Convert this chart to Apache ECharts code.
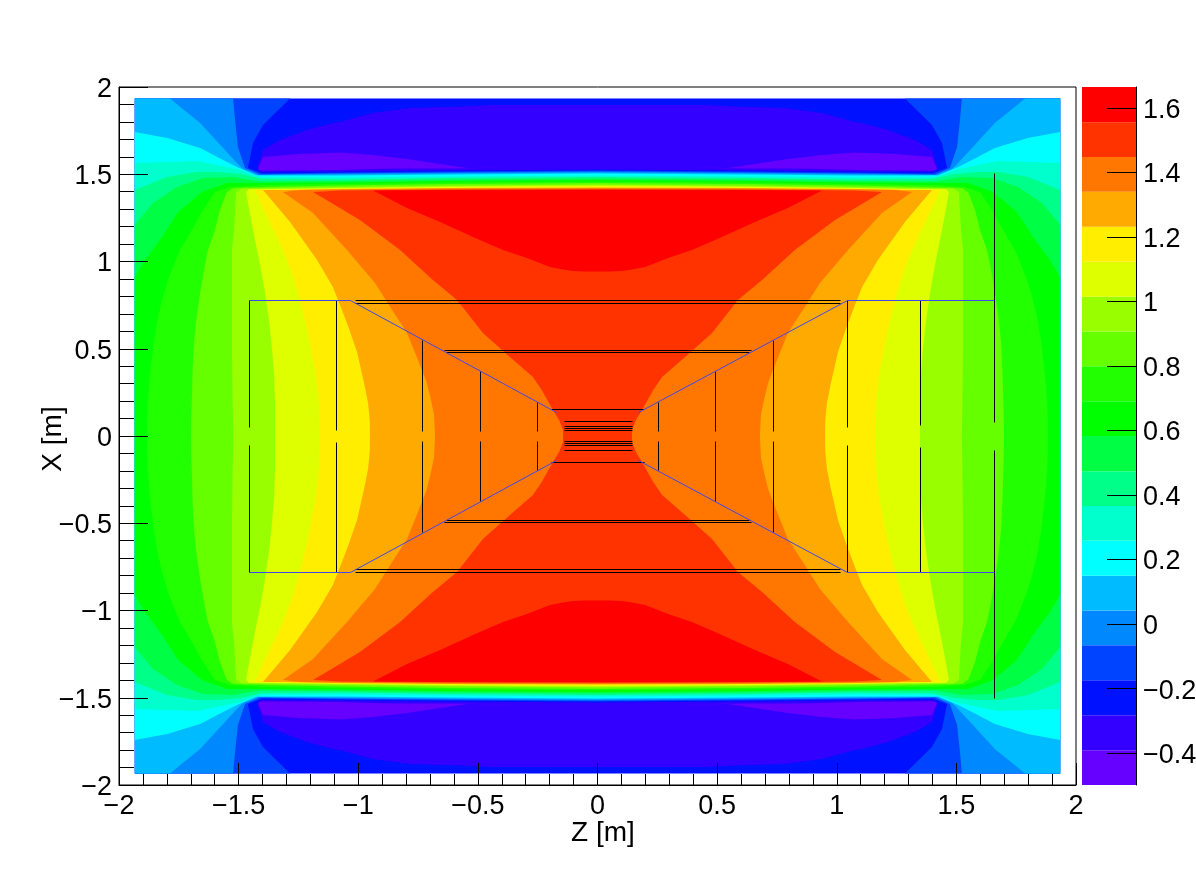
<!DOCTYPE html>
<html>
<head>
<meta charset="utf-8">
<style>
  html, body { margin: 0; background: #fff; }
  #chart { width: 1196px; height: 872px; }
</style>
<script src="https://cdn.jsdelivr.net/npm/echarts@6/dist/echarts.min.js"></script>
</head>
<body>
<div id="chart"></div>
<script>
// colour levels, low to high
const levels = [-0.499, -0.391, -0.283, -0.174, -0.066, 0.042, 0.150, 0.258, 0.366, 0.474, 0.583,
                0.691, 0.799, 0.907, 1.015, 1.123, 1.232, 1.340, 1.448, 1.556, 1.665];
const palette = ["#6600ff", "#3300ff", "#0011ff", "#0044ff", "#0088ff", "#00bbff", "#00ffff", "#00ffcc",
                 "#00ff88", "#00ff44", "#00ff00", "#22ff00", "#66ff00", "#99ff00", "#ddff00", "#ffee00",
                 "#ffaa00", "#ff7700", "#ff3300", "#ff0000"];
const paletteTicks = [-0.4, -0.2, 0, 0.2, 0.4, 0.6, 0.8, 1, 1.2, 1.4, 1.6];

// contours, [z, x] in metres, upper left quadrant
const domainEdge = [[-1.934, 0], [-1.934, 1.934], [0, 1.934]];
const contour3 = [[-1.934,0],[-1.934,1.934],[-1.285,1.934],[-1.398,1.782],[-1.440,1.679],[-1.461,1.536],[-1.402,1.504],[-1.076,1.510],[-0.617,1.516],[0,1.521]];
const contour4 = [[-1.934,0],[-1.934,1.934],[-1.523,1.934],[-1.515,1.811],[-1.503,1.656],[-1.473,1.536],[-1.411,1.499],[-1.076,1.504],[-0.617,1.510],[0,1.516]];
const contour5 = [[-1.934,0],[-1.934,1.934],[-1.787,1.934],[-1.661,1.794],[-1.565,1.650],[-1.507,1.564],[-1.482,1.530],[-1.419,1.496],[-1.076,1.499],[-0.617,1.504],[0,1.510]];
const contour6 = [[-1.934,0],[-1.934,1.742],[-1.799,1.708],[-1.661,1.650],[-1.565,1.582],[-1.507,1.542],[-1.423,1.493],[-1.076,1.493],[-0.617,1.499],[0,1.504]];
const contour7 = [[-1.934,0],[-1.934,1.564],[-1.799,1.570],[-1.674,1.576],[-1.590,1.553],[-1.494,1.524],[-1.411,1.484],[-1.076,1.481],[-0.617,1.487],[0,1.493]];
const contour8 = [[-1.934,0],[-1.934,1.410],[-1.799,1.484],[-1.674,1.513],[-1.590,1.513],[-1.494,1.501],[-1.398,1.473],[-1.076,1.470],[-0.617,1.479],[0,1.484]];
const contour9 = [[-1.934,0],[-1.934,1.209],[-1.858,1.335],[-1.758,1.427],[-1.649,1.479],[-1.523,1.484],[-1.411,1.458],[-1.076,1.461],[-0.617,1.470],[0,1.476]];
const contour10 = [[-1.934,0],[-1.934,0.911],[-1.891,1.009],[-1.820,1.140],[-1.753,1.284],[-1.653,1.398],[-1.549,1.450],[-1.411,1.450],[-1.076,1.453],[-0.617,1.461],[0,1.467]];
const contour11 = [[-1.883,0],[-1.882,0.10],[-1.879,0.206],[-1.872,0.33],[-1.862,0.453],[-1.851,0.57],[-1.837,0.682],[-1.818,0.79],[-1.795,0.894],[-1.771,0.98],[-1.745,1.066],[-1.703,1.163],[-1.649,1.295],[-1.599,1.398],[-1.536,1.427],[-1.398,1.438],[-1.076,1.444],[-0.617,1.453],[0,1.458]];
const contour12 = [[-1.699,0],[-1.698,0.12],[-1.695,0.246],[-1.692,0.39],[-1.687,0.533],[-1.676,0.68],[-1.661,0.819],[-1.646,0.945],[-1.628,1.066],[-1.599,1.181],[-1.578,1.295],[-1.549,1.398],[-1.523,1.421],[-1.381,1.427],[-1.076,1.436],[-0.617,1.444],[0,1.450]];
const contour13 = [[-1.523,0],[-1.528,0.493],[-1.528,0.797],[-1.528,1.066],[-1.519,1.181],[-1.511,1.398],[-1.486,1.418],[-1.369,1.421],[-1.076,1.427],[-0.617,1.436],[0,1.441]];
const contour14 = [[-1.348,0],[-1.348,0.206],[-1.352,0.35],[-1.360,0.493],[-1.373,0.66],[-1.390,0.819],[-1.406,0.945],[-1.423,1.066],[-1.444,1.209],[-1.469,1.398],[-1.457,1.415],[-1.348,1.415],[-1.076,1.421],[-0.617,1.430],[0,1.436]];
const contour15 = [[-1.160,0],[-1.161,0.12],[-1.168,0.246],[-1.181,0.38],[-1.202,0.533],[-1.226,0.68],[-1.256,0.837],[-1.285,0.96],[-1.315,1.066],[-1.369,1.221],[-1.432,1.410],[-1.327,1.413],[-1.076,1.418],[-0.617,1.424],[0,1.430]];
const contour16 = [[-0.951,0],[-0.952,0.09],[-0.959,0.189],[-0.975,0.30],[-1.005,0.481],[-1.040,0.62],[-1.076,0.751],[-1.106,0.854],[-1.172,1.009],[-1.285,1.226],[-1.398,1.410],[-1.306,1.410],[-1.076,1.415],[-0.617,1.421],[0,1.424]];
const contour17 = [[-0.679,0],[-0.683,0.12],[-0.696,0.206],[-0.713,0.304],[-0.742,0.407],[-0.796,0.590],[-0.867,0.74],[-0.930,0.877],[-1.047,1.066],[-1.189,1.278],[-1.315,1.398],[-1.243,1.410],[-1.076,1.413],[-0.617,1.418],[0,1.421]];
const contour18 = [[-0.144,0],[-0.144,0.034],[-0.160,0.09],[-0.186,0.149],[-0.233,0.264],[-0.270,0.338],[-0.366,0.453],[-0.479,0.590],[-0.587,0.779],[-0.688,0.894],[-0.825,1.066],[-0.993,1.238],[-1.189,1.398],[-1.076,1.407],[-0.617,1.413],[0,1.415]];
// caps above the wall and inside it, half of each (the other half is the mirror image)
const lowCap = [[0,1.897],[-0.449,1.897],[-0.604,1.887],[-0.784,1.880],[-0.938,1.851],[-1.076,1.799],[-1.106,1.794],[-1.214,1.754],[-1.327,1.696],[-1.398,1.639],[-1.423,1.536],[-1.402,1.513],[-1.076,1.516],[-0.617,1.521],[0,1.527]];
const lowestPatch = [[-1.419,1.530],[-1.398,1.599],[-1.243,1.616],[-1.076,1.624],[-0.938,1.610],[-0.796,1.587],[-0.658,1.559],[-0.545,1.536],[-0.336,1.539],[-0.617,1.533],[-0.863,1.533],[-1.076,1.524],[-1.411,1.521]];
const highCap = [[0,1.410],[-0.617,1.410],[-0.938,1.407],[-0.796,1.307],[-0.658,1.226],[-0.520,1.140],[-0.395,1.066],[-0.295,1.020],[-0.250,0.995],[-0.199,0.968],[-0.150,0.955],[-0.102,0.946],[-0.050,0.943],[0,0.943]];

// detector outline, [z1, x1, z2, x2]
const blueLines = [
  [-1.457,0.779,-1.034,0.779],[-1.034,0.779,-0.172,0.135],[-1.457,-0.779,-1.034,-0.779],[-1.034,-0.779,-0.172,-0.135],
  [1.657,0.779,1.043,0.779],[1.043,0.779,0.170,0.135],[1.657,-0.779,1.043,-0.779],[1.043,-0.779,0.170,-0.135]
];
const blackLines = [
  [-1.014,0.779,1.014,0.779],[-1.014,0.762,1.014,0.762],[-1.014,-0.762,1.014,-0.762],[-1.014,-0.779,1.014,-0.779],
  [-0.642,0.493,0.642,0.493],[-0.633,0.479,0.633,0.479],[-0.633,-0.479,0.633,-0.479],[-0.642,-0.493,0.642,-0.493],
  [-0.194,0.153,0.194,0.153],[-0.194,-0.151,0.194,-0.151],
  [-0.140,0.084,0.144,0.084],[-0.140,0.056,0.144,0.056],[-0.140,0.044,0.144,0.044],[-0.140,0.034,0.144,0.034],
  [-0.140,-0.030,0.144,-0.030],[-0.140,-0.040,0.144,-0.040],[-0.140,-0.052,0.144,-0.052],[-0.140,-0.082,0.144,-0.082],
  [-1.457,0.779,-1.457,0.052],[-1.457,-0.052,-1.457,-0.779],[-1.093,0.779,-1.093,0.034],[-1.093,-0.034,-1.093,-0.779],
  [-0.734,0.550,-0.734,0.029],[-0.734,-0.029,-0.734,-0.550],[-0.491,0.372,-0.491,0.029],[-0.491,-0.029,-0.491,-0.372],
  [-0.253,0.195,-0.253,0.029],[-0.253,-0.029,-0.253,-0.195],[0.253,0.195,0.253,0.029],[0.253,-0.029,0.253,-0.195],
  [0.491,0.372,0.491,0.029],[0.491,-0.029,0.491,-0.372],[0.734,0.550,0.734,0.029],[0.734,-0.029,0.734,-0.550],
  [1.043,0.779,1.043,0.050],[1.043,-0.050,1.043,-0.779],[1.348,0.779,1.348,0.063],[1.348,-0.061,1.348,-0.779],
  [1.657,1.507,1.657,0.082],[1.657,-0.080,1.657,-1.500]
];

const FONT = "Liberation Sans";
const flip = (pts, sz, sx) => pts.map((p) => [p[0] * sz, p[1] * sx]);
const back = (pts) => pts.slice().reverse();

// quadrant outline -> one closed shape around the centre
const whole = (q) => [q, back(flip(q, -1, 1)), flip(q, -1, -1), back(flip(q, 1, -1))].flat();
// half cap -> upper and lower cap
const caps = (h) => {
  const top = h.concat(back(flip(h, -1, 1)));
  return [top, flip(top, 1, -1)];
};
const fourCopies = (q) => [q, flip(q, -1, 1), flip(q, 1, -1), flip(q, -1, -1)];

// painted low to high, each one on top of the last
const shapes = [];
const addShape = (pts, band) => shapes.push({ pts, band });
addShape(whole(domainEdge), 2);
caps(lowCap).forEach((s) => addShape(s, 1));
fourCopies(lowestPatch).forEach((s) => addShape(s, 0));
[contour3, contour4, contour5, contour6, contour7, contour8, contour9, contour10, contour11,
 contour12, contour13, contour14, contour15, contour16, contour17, contour18].forEach((c, i) => addShape(whole(c), i + 3));
caps(highCap).forEach((s) => addShape(s, 19));

const minusText = (v) => String(v).replace("-", "\u2212");
const crisp = (v) => Math.round(v) + 0.5;

const lineItem = (color) => (params, api) => {
  const a = api.coord([api.value(0), api.value(1)]);
  const b = api.coord([api.value(2), api.value(3)]);
  return {
    type: "line",
    shape: { x1: crisp(a[0]), y1: crisp(a[1]), x2: crisp(b[0]), y2: crisp(b[1]) },
    style: { stroke: color, lineWidth: 1 },
  };
};

const mainAxis = (name, tickLen, minorLen, nameGap, namePadding, labelExtra) => ({
  type: "value",
  min: -2,
  max: 2,
  interval: 0.5,
  name,
  nameLocation: "middle",
  nameGap,
  nameMoveOverlap: false,
  nameTextStyle: { fontFamily: FONT, fontSize: 28, color: "#000", padding: namePadding },
  axisLine: { show: true, onZero: false, lineStyle: { color: "#000", width: 1 } },
  axisTick: { show: true, inside: true, length: tickLen, lineStyle: { color: "#000", width: 1 } },
  minorTick: { show: true, splitNumber: 5, length: minorLen, lineStyle: { color: "#000", width: 1 } },
  splitLine: { show: false },
  axisLabel: Object.assign({ fontFamily: FONT, fontSize: 27, color: "#000", formatter: minusText }, labelExtra),
  z: 5,
});

// labels sit about 2px under their ticks in the reference
const lowLabel = { verticalAlign: "top", lineHeight: 5 };

const option = {
  animation: false,
  backgroundColor: "#fff",
  grid: [
    { left: 119, top: 87, width: 957, height: 698, show: true, borderColor: "#000", borderWidth: 1, backgroundColor: "#fff", outerBoundsMode: "none" },
    { left: 1082, top: 87, width: 54, height: 698, outerBoundsMode: "none" },
  ],
  xAxis: [
    mainAxis("Z [m]", 22, 11, 34, [0, 0, 0, 11], { margin: 8 }),
    { type: "value", gridIndex: 1, min: 0, max: 1, show: false },
  ],
  yAxis: [
    mainAxis("X [m]", 29, 15, 52, [0, 6, 0, 0], Object.assign({
      margin: 7, verticalAlignMinLabel: "top", verticalAlignMaxLabel: "top",
    }, lowLabel)),
    {
      type: "value",
      gridIndex: 1,
      position: "right",
      min: levels[0],
      max: levels[levels.length - 1],
      axisLine: { show: true, onZero: false, lineStyle: { color: "#000", width: 1 } },
      axisTick: { show: true, inside: true, length: 29, customValues: paletteTicks, lineStyle: { color: "#000", width: 1 } },
      splitLine: { show: false },
      axisLabel: Object.assign({ fontFamily: FONT, fontSize: 27, color: "#000", margin: 7, customValues: paletteTicks, formatter: minusText }, lowLabel),
      z: 5,
    },
  ],
  series: [
    {
      // filled contour bands
      type: "custom",
      xAxisIndex: 0,
      yAxisIndex: 0,
      clip: true,
      silent: true,
      data: shapes.map((s, i) => [i]),
      encode: { x: [], y: [] },
      renderItem: (params, api) => {
        const s = shapes[params.dataIndex];
        return {
          type: "polygon",
          shape: { points: s.pts.map((p) => api.coord(p)) },
          style: { fill: palette[s.band] },
        };
      },
      z: 2,
    },
    {
      type: "custom",
      xAxisIndex: 0,
      yAxisIndex: 0,
      silent: true,
      data: blackLines,
      encode: { x: [0, 2], y: [1, 3] },
      renderItem: lineItem("#000"),
      z: 3,
    },
    {
      type: "custom",
      xAxisIndex: 0,
      yAxisIndex: 0,
      silent: true,
      data: blueLines,
      encode: { x: [0, 2], y: [1, 3] },
      renderItem: lineItem("#4048ee"),
      z: 4,
    },
    {
      // palette box
      type: "custom",
      xAxisIndex: 1,
      yAxisIndex: 1,
      silent: true,
      data: palette.map((c, i) => [0, levels[i], 1, levels[i + 1]]),
      encode: { x: [0, 2], y: [1, 3] },
      renderItem: (params, api) => {
        const a = api.coord([api.value(0), api.value(1)]);
        const b = api.coord([api.value(2), api.value(3)]);
        return {
          type: "rect",
          shape: { x: a[0], y: b[1], width: b[0] - a[0], height: a[1] - b[1] },
          style: { fill: palette[params.dataIndex] },
        };
      },
      z: 2,
    },
  ],
};

echarts.init(document.getElementById("chart"), null, { renderer: "canvas" }).setOption(option);
</script>
</body>
</html>
